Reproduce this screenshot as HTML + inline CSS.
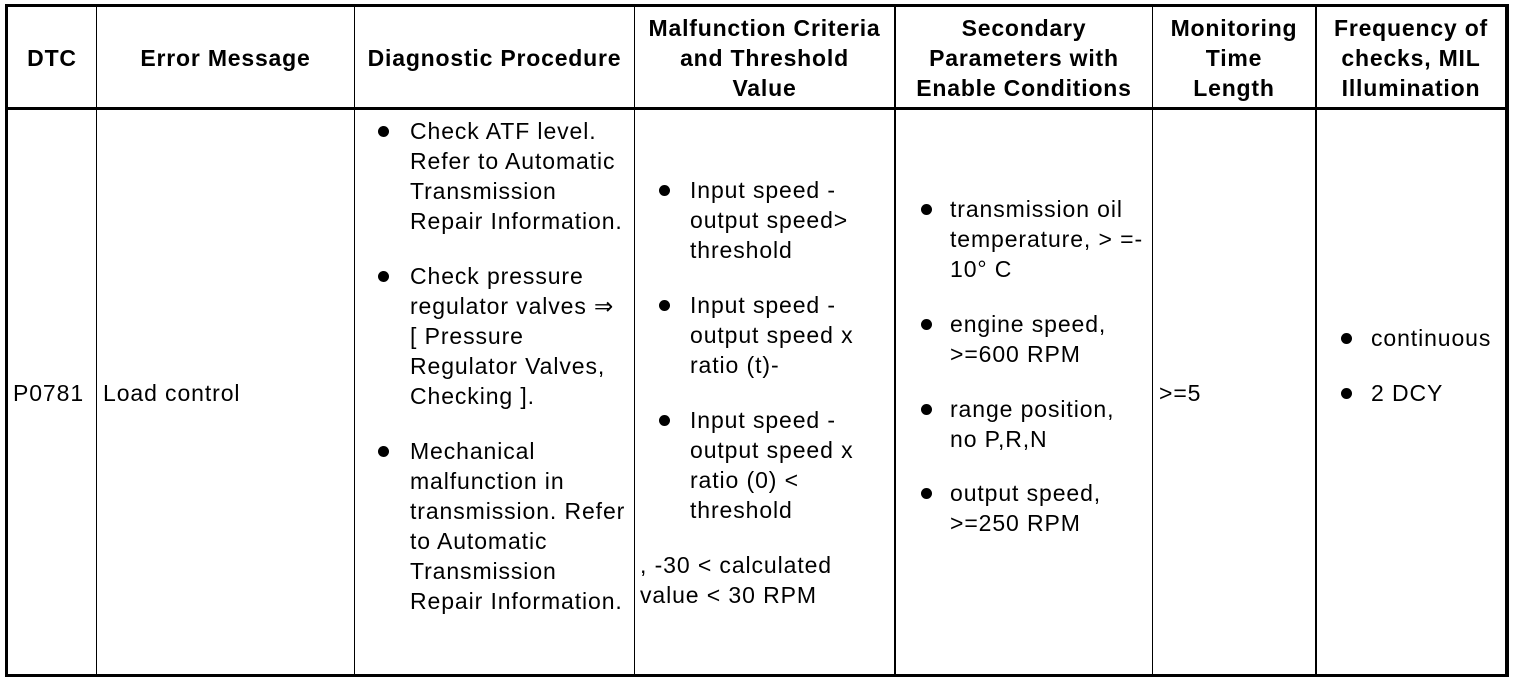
<!DOCTYPE html>
<html><head><meta charset="utf-8"><style>
html,body{margin:0;padding:0;background:#fff;width:1520px;height:682px;overflow:hidden;position:relative}
.l{position:absolute;background:#000}
.t{position:absolute;font-family:"Liberation Sans","DejaVu Sans",sans-serif;font-size:23px;letter-spacing:0.9px;line-height:30px;white-space:nowrap;color:#000}
.h{font-weight:bold;text-align:center;letter-spacing:0.8px}
.b{position:absolute;width:11px;height:11px;border-radius:50%;background:#000}
</style></head><body>
<div class="l" style="left:5px;top:4px;width:1504px;height:3px"></div>
<div class="l" style="left:5px;top:674px;width:1504px;height:3px"></div>
<div class="l" style="left:5px;top:4px;width:3px;height:673px"></div>
<div class="l" style="left:1505px;top:4px;width:4px;height:673px"></div>
<div class="l" style="left:5px;top:107px;width:1504px;height:3px"></div>
<div class="l" style="left:96px;top:4px;width:1px;height:673px"></div>
<div class="l" style="left:354px;top:4px;width:1px;height:673px"></div>
<div class="l" style="left:634px;top:4px;width:1px;height:673px"></div>
<div class="l" style="left:894px;top:4px;width:2px;height:673px"></div>
<div class="l" style="left:1152px;top:4px;width:1px;height:673px"></div>
<div class="l" style="left:1315px;top:4px;width:2px;height:673px"></div>

<div class="t h" style="left:8px;width:88px;top:43px">DTC</div>
<div class="t h" style="left:97px;width:257px;top:43px">Error Message</div>
<div class="t h" style="left:355px;width:279px;top:43px">Diagnostic Procedure</div>
<div class="t h" style="left:635px;width:259px;top:13px">Malfunction Criteria<br>and Threshold<br>Value</div>
<div class="t h" style="left:896px;width:256px;top:13px">Secondary<br>Parameters with<br>Enable Conditions</div>
<div class="t h" style="left:1153px;width:162px;top:13px">Monitoring<br>Time<br>Length</div>
<div class="t h" style="left:1317px;width:188px;top:13px">Frequency of<br>checks, MIL<br>Illumination</div>

<div class="t" style="left:13px;top:378px">P0781</div>
<div class="t" style="left:103px;top:378px">Load control</div>

<div class="b" style="left:378px;top:126px"></div>
<div class="t" style="left:410px;top:116px">Check ATF level.<br>Refer to Automatic<br>Transmission<br>Repair Information.</div>
<div class="b" style="left:378px;top:271px"></div>
<div class="t" style="left:410px;top:261px">Check pressure<br>regulator valves ⇒<br>[ Pressure<br>Regulator Valves,<br>Checking ].</div>
<div class="b" style="left:378px;top:446px"></div>
<div class="t" style="left:410px;top:436px">Mechanical<br>malfunction in<br>transmission. Refer<br>to Automatic<br>Transmission<br>Repair Information.</div>

<div class="b" style="left:659px;top:185px"></div>
<div class="t" style="left:690px;top:175px">Input speed -<br>output speed&gt;<br>threshold</div>
<div class="b" style="left:659px;top:300px"></div>
<div class="t" style="left:690px;top:290px">Input speed -<br>output speed x<br>ratio (t)-</div>
<div class="b" style="left:659px;top:415px"></div>
<div class="t" style="left:690px;top:405px">Input speed -<br>output speed x<br>ratio (0) &lt;<br>threshold</div>
<div class="t" style="left:640px;top:550px">, -30 &lt; calculated<br>value &lt; 30 RPM</div>

<div class="b" style="left:921px;top:204px"></div>
<div class="t" style="left:950px;top:194px">transmission oil<br>temperature, &gt; =-<br>10° C</div>
<div class="b" style="left:921px;top:319px"></div>
<div class="t" style="left:950px;top:309px">engine speed,<br>&gt;=600 RPM</div>
<div class="b" style="left:921px;top:404px"></div>
<div class="t" style="left:950px;top:394px">range position,<br>no P,R,N</div>
<div class="b" style="left:921px;top:488px"></div>
<div class="t" style="left:950px;top:478px">output speed,<br>&gt;=250 RPM</div>

<div class="t" style="left:1159px;top:378px">&gt;=5</div>

<div class="b" style="left:1341px;top:333px"></div>
<div class="t" style="left:1371px;top:323px">continuous</div>
<div class="b" style="left:1341px;top:388px"></div>
<div class="t" style="left:1371px;top:378px">2 DCY</div>
</body></html>
